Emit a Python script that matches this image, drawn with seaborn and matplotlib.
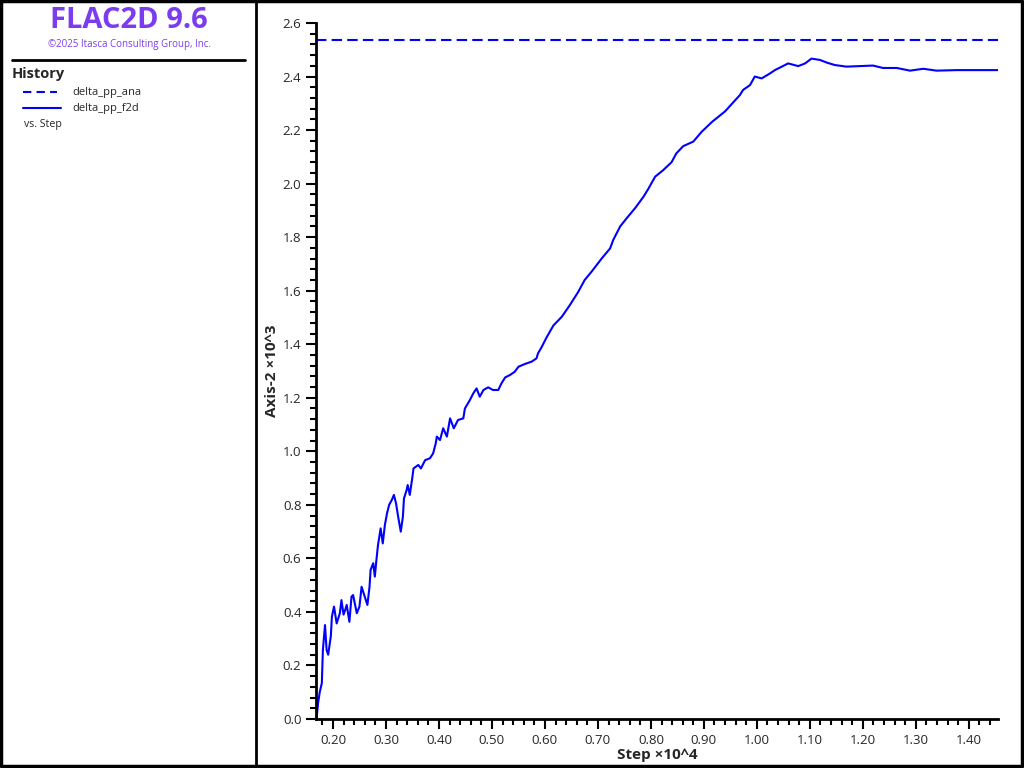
import pandas as pd
import seaborn as sns
import matplotlib.pyplot as plt
from matplotlib.ticker import MultipleLocator, FormatStrFormatter

# -----------------------------
# Data (Step x10^4, Axis-2 x10^3)
# -----------------------------
ana_step = [0.168, 1.455]
ana_val = [2.536, 2.536]

f2d_step = [0.169, 0.172, 0.175, 0.179, 0.181, 0.185, 0.188, 0.191, 0.196, 0.198,
            0.202, 0.207, 0.213, 0.216, 0.220, 0.223, 0.226, 0.231, 0.235, 0.238,
            0.245, 0.250, 0.254, 0.260, 0.265, 0.269, 0.271, 0.276, 0.279, 0.282,
            0.285, 0.290, 0.294, 0.298, 0.302, 0.306, 0.311, 0.315, 0.319, 0.323,
            0.328, 0.332, 0.334, 0.339, 0.341, 0.345, 0.350, 0.352, 0.361, 0.366,
            0.374, 0.383, 0.389, 0.394, 0.396, 0.402, 0.408, 0.415, 0.421, 0.428,
            0.436, 0.446, 0.449, 0.458, 0.465, 0.471, 0.477, 0.484, 0.493, 0.502,
            0.512, 0.518, 0.525, 0.534, 0.543, 0.550, 0.562, 0.575, 0.584, 0.587,
            0.594, 0.603, 0.616, 0.632, 0.647, 0.663, 0.675, 0.688, 0.707, 0.723,
            0.729, 0.742, 0.754, 0.770, 0.786, 0.795, 0.808, 0.823, 0.839, 0.848,
            0.861, 0.880, 0.896, 0.915, 0.940, 0.968, 0.974, 0.987, 0.996, 1.009,
            1.025, 1.034, 1.047, 1.059, 1.078, 1.091, 1.103, 1.119, 1.132, 1.147,
            1.169, 1.194, 1.219, 1.238, 1.264, 1.289, 1.314, 1.339, 1.377, 1.408,
            1.455]
f2d_val = [0.000, 0.060, 0.100, 0.134, 0.258, 0.351, 0.258, 0.240, 0.310, 0.382,
           0.420, 0.357, 0.395, 0.444, 0.390, 0.407, 0.426, 0.363, 0.457, 0.463,
           0.395, 0.420, 0.494, 0.457, 0.426, 0.494, 0.557, 0.582, 0.532, 0.594,
           0.650, 0.712, 0.656, 0.725, 0.768, 0.800, 0.818, 0.837, 0.806, 0.756,
           0.700, 0.756, 0.824, 0.855, 0.874, 0.837, 0.905, 0.936, 0.949, 0.936,
           0.967, 0.974, 0.992, 1.030, 1.055, 1.042, 1.086, 1.055, 1.123, 1.086,
           1.117, 1.123, 1.160, 1.190, 1.217, 1.235, 1.204, 1.229, 1.239, 1.229,
           1.229, 1.254, 1.276, 1.285, 1.297, 1.316, 1.326, 1.335, 1.347, 1.366,
           1.390, 1.425, 1.470, 1.503, 1.546, 1.596, 1.640, 1.671, 1.720, 1.758,
           1.790, 1.840, 1.870, 1.908, 1.951, 1.980, 2.026, 2.050, 2.080, 2.113,
           2.140, 2.157, 2.194, 2.230, 2.270, 2.331, 2.350, 2.368, 2.400, 2.393,
           2.412, 2.424, 2.437, 2.449, 2.439, 2.449, 2.467, 2.462, 2.452, 2.443,
           2.437, 2.439, 2.441, 2.432, 2.432, 2.422, 2.429, 2.422, 2.424, 2.424,
           2.424]

azul = '#0000ff'
morado = '#7b3cf0'

sns.set_theme(style="ticks")
plt.rcParams['font.family'] = ['Open Sans', 'DejaVu Sans']

fig = plt.figure(figsize=(10.24, 7.68), dpi=100)

# -----------------------------
# Marco y panel izquierdo (coordenadas en pixeles)
# -----------------------------
bg = fig.add_axes([0, 0, 1, 1])
bg.set_xlim(0, 1024)
bg.set_ylim(768, 0)
bg.axis('off')
bg.plot([1, 1022, 1022, 1, 1], [1, 1, 766, 766, 1], color='black', lw=2.5)
bg.plot([256, 256], [0, 768], color='black', lw=2)
bg.plot([12, 245], [60, 60], color='black', lw=2)

bg.text(129, 21, "FLAC2D 9.6", color=morado, fontsize=21, fontweight='bold',
        ha='center', va='center')
bg.text(129, 45, "©2025 Itasca Consulting Group, Inc.", color=morado,
        fontsize=7, ha='center', va='center')
bg.text(12, 74, "History", fontsize=10.5, fontweight='bold', ha='left', va='center')
bg.plot([23, 57], [92, 92], color=azul, lw=1.5, ls=(0, (4, 2.5)))
bg.plot([23, 61], [108, 108], color=azul, lw=1.5)
bg.text(72, 92, "delta_pp_ana", fontsize=8, ha='left', va='center')
bg.text(72, 108, "delta_pp_f2d", fontsize=8, ha='left', va='center')
bg.text(24, 125, "vs. Step", fontsize=7.7, ha='left', va='center')

# -----------------------------
# Grafico principal
# -----------------------------
ax = fig.add_axes([316 / 1024, 1 - 719 / 768, (998 - 316) / 1024, (719 - 23) / 768])
ax.patch.set_alpha(0)

sns.lineplot(x=ana_step, y=ana_val, ax=ax, color=azul, lw=1.5,
             ls=(0, (5, 2.5)), estimator=None)
sns.lineplot(x=f2d_step, y=f2d_val, ax=ax, color=azul, lw=1.5, estimator=None)

ax.set_xlim(0.168, 1.455)
ax.set_ylim(0, 2.6)

ax.xaxis.set_major_locator(MultipleLocator(0.1))
ax.xaxis.set_minor_locator(MultipleLocator(0.02))
ax.yaxis.set_major_locator(MultipleLocator(0.2))
ax.yaxis.set_minor_locator(MultipleLocator(0.04))
ax.xaxis.set_major_formatter(FormatStrFormatter('%.2f'))
ax.yaxis.set_major_formatter(FormatStrFormatter('%.1f'))

for lado in ['top', 'right']:
    ax.spines[lado].set_visible(False)
for lado in ['left', 'bottom']:
    ax.spines[lado].set_linewidth(2)
    ax.spines[lado].set_color('black')

ax.tick_params(which='major', length=7, width=1.5, labelsize=9.5, color='black')
ax.tick_params(which='minor', length=4, width=1.5, color='black')

ax.set_xlabel("Step ×10^4", fontsize=11, fontweight='bold', labelpad=1)
ax.set_ylabel("Axis-2 ×10^3", fontsize=11, fontweight='bold', labelpad=3)

fig.savefig('out.png', dpi=100)
